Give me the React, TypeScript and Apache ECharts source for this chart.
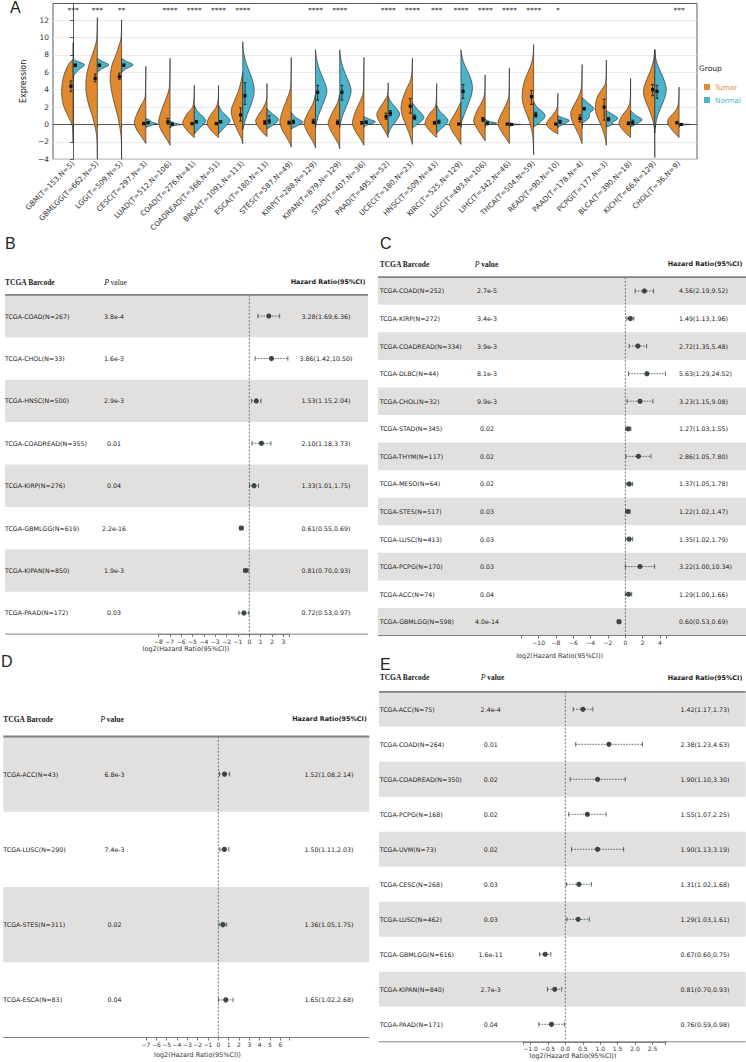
import React, { useEffect, useRef } from "react";
import * as echarts from "echarts";

const FONT = "DejaVu Sans";
const SERIF = "Liberation Serif";
const ORANGE = "#E0892E";
const BLUE = "#4BB4CA";
const SHADE = "#E2E0DE";
const INK = "#222222";
const DOT = "#3B4744";
const RULE = "#808080";

// ---------------- Panel A data ----------------
const cancerLabels = [
  "GBM(T=153,N=5)", "GBMLGG(T=662,N=5)", "LGG(T=509,N=5)", "CESC(T=297,N=3)", "LUAD(T=512,N=106)",
  "COAD(T=276,N=41)", "COADREAD(T=366,N=51)", "BRCA(T=1091,N=113)", "ESCA(T=180,N=13)", "STES(T=587,N=49)",
  "KIRP(T=288,N=129)", "KIPAN(T=879,N=129)", "STAD(T=407,N=36)", "PRAD(T=495,N=52)", "UCEC(T=180,N=23)",
  "HNSC(T=509,N=43)", "KIRC(T=525,N=129)", "LUSC(T=493,N=106)", "LIHC(T=342,N=46)", "THCA(T=504,N=59)",
  "READ(T=90,N=10)", "PAAD(T=178,N=4)", "PCPG(T=177,N=3)", "BLCA(T=390,N=18)", "KICH(T=66,N=129)",
  "CHOL(T=36,N=9)",
];
const signif = ["***", "***", "**", "", "****", "****", "****", "****", "", "", "****", "****", "", "****", "****", "***", "****", "****", "****", "****", "*", "", "", "", "", "***"];
const yTicksA = [-4, -2, 0, 2, 4, 6, 8, 10, 12];

const tumorMean = [4.4, 5.3, 5.5, 0.1, 0.3, 0.1, 0.1, 1.1, 0.2, 0.2, 0.3, 0.2, 0.2, 0.9, 2.1, 0.2, 0.05, 0.6, 0.05, 3.2, 0.05, 0.7, 2.0, 0.1, 4.0, 0.2];
const tumorLow = [3.8, 4.9, 5.2, 0.0, 0.05, 0.0, 0.0, 0.4, 0.05, 0.05, 0.1, 0.05, 0.05, 0.6, 1.3, 0.05, 0.0, 0.35, 0.0, 2.3, 0.0, 0.3, 0.5, 0.0, 3.3, 0.1];
const tumorHigh = [5.0, 5.8, 5.9, 0.25, 0.7, 0.2, 0.2, 1.9, 0.45, 0.4, 0.6, 0.5, 0.35, 1.3, 3.0, 0.35, 0.1, 0.8, 0.1, 3.9, 0.1, 1.1, 2.9, 0.3, 4.6, 0.35];
const normalMean = [6.8, 6.8, 6.8, 0.2, 0.05, 0.3, 0.3, 3.3, 0.4, 0.3, 3.7, 3.7, 0.25, 1.3, 0.8, 0.3, 3.8, 0.15, 0.0, 1.1, 0.3, 1.8, 0.6, 0.2, 3.8, 0.0];
const normalLow = [6.65, 6.65, 6.65, 0.1, 0.0, 0.2, 0.2, 2.3, 0.1, 0.1, 2.8, 2.8, 0.15, 1.0, 0.55, 0.1, 3.0, 0.1, -0.05, 0.85, 0.1, 1.7, 0.4, 0.0, 3.0, -0.05];
const normalHigh = [6.95, 6.95, 6.95, 0.3, 0.1, 0.45, 0.45, 4.8, 1.0, 0.5, 4.5, 4.5, 0.4, 1.6, 1.1, 0.5, 4.6, 0.25, 0.05, 1.4, 0.5, 1.95, 0.8, 0.5, 4.5, 0.05];

// density profiles: [expression, relative half-width]
const tumorShape = [
  [[7.5, 0], [6.9, 0.4], [5.7, 0.8], [4.5, 0.97], [3.4, 1], [2.2, 0.85], [1, 0.45], [0, 0.1], [-1, 0.02], [-2.1, 0]],
  [[12.3, 0], [10, 0.05], [9, 0.2], [8, 0.45], [7, 0.7], [6, 0.9], [5, 1], [4, 1], [3, 0.9], [2, 0.7], [1, 0.45], [0, 0.25], [-1, 0.1], [-2, 0.03], [-4, 0]],
  [[12, 0], [10, 0.05], [9, 0.25], [8, 0.5], [7, 0.8], [6, 0.97], [5, 1], [4, 0.9], [3, 0.75], [2, 0.55], [1, 0.35], [0, 0.2], [-1, 0.08], [-2, 0.02], [-4, 0]],
  [[6.7, 0], [4, 0.03], [3, 0.1], [2, 0.5], [1, 0.85], [0.2, 1], [-0.5, 0.85], [-1.2, 0.5], [-1.8, 0.2], [-2.2, 0]],
  [[7.6, 0], [5, 0.03], [4, 0.1], [3, 0.35], [2, 0.65], [1, 0.9], [0.3, 1], [-0.5, 0.85], [-1.3, 0.5], [-2, 0.15], [-2.4, 0]],
  [[4.5, 0], [3, 0.03], [2, 0.15], [1.3, 0.6], [0.5, 0.95], [0, 1], [-0.6, 0.7], [-1.1, 0.35], [-1.5, 0]],
  [[4.5, 0], [3, 0.03], [2, 0.2], [1.3, 0.6], [0.5, 0.95], [0, 1], [-0.6, 0.7], [-1.1, 0.35], [-1.5, 0]],
  [[6, 0], [5, 0.15], [4, 0.35], [3, 0.65], [2, 0.95], [1.3, 1], [0.5, 0.85], [-0.3, 0.6], [-1, 0.35], [-1.7, 0.1], [-2.2, 0]],
  [[4.7, 0], [3, 0.03], [2, 0.3], [1.2, 0.7], [0.4, 1], [-0.3, 0.75], [-0.9, 0.4], [-1.4, 0]],
  [[7.7, 0], [5, 0.03], [4, 0.1], [3, 0.35], [2, 0.65], [1, 0.9], [0.2, 1], [-0.6, 0.8], [-1.4, 0.45], [-2.1, 0.15], [-2.6, 0]],
  [[3.5, 0], [2.5, 0.2], [1.5, 0.6], [0.5, 0.95], [0, 1], [-0.8, 0.75], [-1.6, 0.4], [-2.3, 0.1], [-2.7, 0]],
  [[3.5, 0], [2.5, 0.2], [1.5, 0.6], [0.5, 0.95], [0, 1], [-0.8, 0.75], [-1.6, 0.4], [-2.3, 0.1], [-2.8, 0]],
  [[7.7, 0], [5, 0.03], [3.5, 0.1], [2.5, 0.4], [1.5, 0.75], [0.5, 0.98], [0, 1], [-0.8, 0.75], [-1.6, 0.35], [-2.4, 0]],
  [[4.8, 0], [3.5, 0.05], [2.8, 0.3], [2, 0.7], [1.2, 1], [0.5, 0.85], [-0.3, 0.5], [-1, 0.2], [-1.5, 0]],
  [[7.6, 0], [6, 0.05], [5, 0.2], [4, 0.55], [3, 0.85], [2, 1], [1, 0.9], [0, 0.6], [-1, 0.3], [-1.8, 0.1], [-2.3, 0]],
  [[4.7, 0], [3, 0.03], [2, 0.15], [1.3, 0.6], [0.5, 0.95], [0, 1], [-0.6, 0.7], [-1.1, 0.35], [-1.5, 0]],
  [[2.6, 0], [1.8, 0.3], [1, 0.65], [0.3, 0.95], [0, 1], [-0.7, 0.8], [-1.5, 0.4], [-2.3, 0]],
  [[5.7, 0], [4, 0.03], [3, 0.15], [2, 0.55], [1, 0.9], [0.3, 1], [-0.5, 0.7], [-1.2, 0.35], [-1.9, 0]],
  [[6.5, 0], [4, 0.03], [3, 0.1], [2, 0.4], [1, 0.8], [0.1, 1], [-0.7, 0.75], [-1.5, 0.35], [-2.2, 0]],
  [[9.2, 0], [8, 0.05], [7, 0.2], [6, 0.5], [5, 0.8], [4, 0.97], [3, 1], [2, 0.85], [1, 0.55], [0, 0.3], [-1, 0.12], [-2, 0.04], [-3.5, 0]],
  [[3.6, 0], [2, 0.05], [1.2, 0.4], [0.5, 0.85], [0, 1], [-0.5, 0.7], [-1.1, 0]],
  [[6.9, 0], [5, 0.03], [4, 0.1], [3, 0.4], [2, 0.8], [1.2, 1], [0.3, 0.85], [-0.5, 0.55], [-1.3, 0.25], [-2.2, 0]],
  [[7.4, 0], [5, 0.05], [4.2, 0.3], [3.3, 0.75], [2.3, 0.95], [1.3, 0.9], [0.3, 0.6], [-0.7, 0.3], [-1.6, 0.1], [-2.4, 0]],
  [[5.3, 0], [3, 0.03], [2, 0.2], [1.2, 0.65], [0.5, 0.95], [0, 1], [-0.6, 0.7], [-1.1, 0.35], [-1.5, 0]],
  [[8.6, 0], [7.5, 0.1], [6.5, 0.3], [5.5, 0.6], [4.5, 0.9], [3.7, 1], [3, 0.9], [2, 0.6], [1, 0.3], [0, 0.1], [-1, 0.03], [-3.8, 0]],
  [[4.3, 0], [2.5, 0.05], [1.6, 0.3], [0.8, 0.85], [0.2, 1], [-0.5, 0.7], [-1.1, 0.3], [-1.5, 0]],
];
const normalShape = [
  [[9.4, 0], [7.6, 0.05], [7.2, 0.5], [6.85, 1], [6.3, 0.5], [5.8, 0.15], [5.4, 0]],
  [[7.6, 0], [7.2, 0.5], [6.85, 1], [6.4, 0.4], [6.0, 0]],
  [[7.6, 0], [7.2, 0.5], [6.85, 1], [6.4, 0.4], [6.0, 0]],
  [[0.7, 0], [0.5, 0.35], [0.25, 0.55], [0.1, 1], [-0.1, 0.5], [-0.3, 0]],
  [[0.4, 0], [0.15, 0.4], [0, 1], [-0.15, 0.3], [-0.4, 0]],
  [[2.2, 0], [1.5, 0.3], [1, 0.7], [0.5, 1], [0, 0.8], [-0.5, 0.4], [-1.1, 0]],
  [[2.2, 0], [1.5, 0.3], [1, 0.7], [0.45, 1], [0, 0.8], [-0.5, 0.4], [-1.1, 0]],
  [[9.5, 0], [8.5, 0.05], [7.5, 0.2], [6.5, 0.45], [5.5, 0.75], [4.5, 0.95], [3.8, 1], [3, 0.9], [2, 0.65], [1, 0.35], [0, 0.12], [-0.6, 0]],
  [[1.8, 0], [1.2, 0.5], [0.6, 1], [0, 0.6], [-0.5, 0]],
  [[1.4, 0], [0.8, 0.4], [0.3, 1], [-0.1, 0.6], [-0.5, 0]],
  [[8.6, 0], [7.5, 0.1], [6.5, 0.3], [5.5, 0.6], [4.5, 0.9], [3.8, 1], [3, 0.85], [2, 0.55], [1, 0.25], [0, 0.05], [-0.3, 0]],
  [[8.6, 0], [7.5, 0.1], [6.5, 0.3], [5.5, 0.6], [4.5, 0.9], [3.8, 1], [3, 0.85], [2, 0.55], [1, 0.25], [0, 0.05], [-0.3, 0]],
  [[0.9, 0], [0.6, 0.5], [0.3, 1], [0, 0.4], [-0.2, 0]],
  [[3.2, 0], [2.5, 0.3], [1.8, 0.75], [1.2, 1], [0.5, 0.75], [-0.3, 0.3], [-1.1, 0]],
  [[2.5, 0], [1.8, 0.4], [1.2, 0.85], [0.7, 1], [0.2, 0.6], [-0.4, 0]],
  [[2.2, 0], [1.5, 0.3], [1, 0.7], [0.45, 1], [0, 0.8], [-0.5, 0.4], [-1.0, 0]],
  [[8.6, 0], [7.5, 0.15], [6.5, 0.45], [5.5, 0.8], [4.5, 1], [3.5, 0.95], [2.5, 0.7], [1.5, 0.4], [0.5, 0.12], [0, 0]],
  [[0.6, 0], [0.35, 0.4], [0.15, 1], [0, 0.4], [-0.15, 0]],
  [[0.2, 0], [0.05, 0.5], [0, 1], [-0.05, 0.4], [-0.2, 0]],
  [[2.6, 0], [2, 0.3], [1.5, 0.75], [1, 1], [0.4, 0.7], [-0.3, 0]],
  [[1.0, 0], [0.7, 0.6], [0.45, 1], [0.1, 0.6], [-0.3, 0]],
  [[3.1, 0], [2.5, 0.5], [2.0, 0.95], [1.7, 1], [1.3, 0.65], [1.0, 0.65], [0.6, 0.5], [0.2, 0.1], [0, 0]],
  [[1.6, 0], [1.2, 0.5], [0.7, 1], [0.3, 0.6], [0, 0.5], [-0.3, 0]],
  [[1.6, 0], [1.1, 0.4], [0.6, 1], [0.2, 0.7], [-0.1, 0.3], [-0.3, 0]],
  [[8.6, 0], [7.5, 0.1], [6.5, 0.35], [5.5, 0.7], [4.5, 0.95], [3.8, 1], [3, 0.85], [2, 0.55], [1, 0.25], [0, 0.08], [-1, 0]],
  [[0.15, 0], [0.05, 0.5], [0, 1], [-0.05, 0.4], [-0.15, 0]],
];

// ---------------- Forest data ----------------
const bNames = ["TCGA-COAD(N=267)", "TCGA-CHOL(N=33)", "TCGA-HNSC(N=500)", "TCGA-COADREAD(N=355)", "TCGA-KIRP(N=276)", "TCGA-GBMLGG(N=619)", "TCGA-KIPAN(N=850)", "TCGA-PAAD(N=172)"];
const bPval = ["3.8e-4", "1.6e-3", "2.9e-3", "0.01", "0.04", "2.2e-16", "1.9e-3", "0.03"];
const bHR = [3.28, 3.86, 1.53, 2.10, 1.33, 0.61, 0.81, 0.72];
const bLow = [1.69, 1.42, 1.15, 1.18, 1.01, 0.55, 0.70, 0.53];
const bHigh = [6.36, 10.50, 2.04, 3.73, 1.75, 0.69, 0.93, 0.97];
const bTicks = [-8, -7, -6, -5, -4, -3, -2, -1, 0, 1, 2, 3];

const cNames = ["TCGA-COAD(N=252)", "TCGA-KIRP(N=272)", "TCGA-COADREAD(N=334)", "TCGA-DLBC(N=44)", "TCGA-CHOL(N=32)", "TCGA-STAD(N=345)", "TCGA-THYM(N=117)", "TCGA-MESO(N=64)", "TCGA-STES(N=517)", "TCGA-LUSC(N=413)", "TCGA-PCPG(N=170)", "TCGA-ACC(N=74)", "TCGA-GBMLGG(N=598)"];
const cPval = ["2.7e-5", "3.4e-3", "3.9e-3", "8.1e-3", "9.9e-3", "0.02", "0.02", "0.02", "0.03", "0.03", "0.03", "0.04", "4.0e-14"];
const cHR = [4.56, 1.49, 2.72, 5.63, 3.23, 1.27, 2.86, 1.37, 1.22, 1.35, 3.22, 1.29, 0.60];
const cLow = [2.19, 1.13, 1.35, 1.29, 1.15, 1.03, 1.05, 1.05, 1.02, 1.02, 1.00, 1.00, 0.53];
const cHigh = [9.52, 1.96, 5.48, 24.52, 9.08, 1.55, 7.80, 1.78, 1.47, 1.79, 10.34, 1.66, 0.69];
const cTicks = [-10, -8, -6, -4, -2, 0, 2, 4];

const dNames = ["TCGA-ACC(N=43)", "TCGA-LUSC(N=290)", "TCGA-STES(N=311)", "TCGA-ESCA(N=83)"];
const dPval = ["6.8e-3", "7.4e-3", "0.02", "0.04"];
const dHR = [1.52, 1.50, 1.36, 1.65];
const dLow = [1.08, 1.11, 1.05, 1.02];
const dHigh = [2.14, 2.03, 1.75, 2.68];
const dTicks = [-7, -6, -5, -4, -3, -2, -1, 0, 1, 2, 3, 4, 5, 6];

const eNames = ["TCGA-ACC(N=75)", "TCGA-COAD(N=264)", "TCGA-COADREAD(N=350)", "TCGA-PCPG(N=168)", "TCGA-UVM(N=73)", "TCGA-CESC(N=268)", "TCGA-LUSC(N=462)", "TCGA-GBMLGG(N=616)", "TCGA-KIPAN(N=840)", "TCGA-PAAD(N=171)"];
const ePval = ["2.4e-4", "0.01", "0.02", "0.02", "0.02", "0.03", "0.03", "1.6e-11", "2.7e-3", "0.04"];
const eHR = [1.42, 2.38, 1.90, 1.55, 1.90, 1.31, 1.29, 0.67, 0.81, 0.76];
const eLow = [1.17, 1.23, 1.10, 1.07, 1.13, 1.02, 1.03, 0.60, 0.70, 0.59];
const eHigh = [1.73, 4.63, 3.30, 2.25, 3.19, 1.68, 1.61, 0.75, 0.93, 0.98];
const eTicks = [-1.0, -0.5, 0, 0.5, 1.0, 1.5, 2.0, 2.5];

// ---------------- layout (positions only) ----------------
const forestLayouts: any[] = [
  { letter: "B", letterX: 5, letterY: 243.5, names: bNames, pval: bPval, hr: bHR, low: bLow, high: bHigh, ticks: bTicks, dec: 0,
    grid: { left: 158.4, top: 294.9, width: 130.7, height: 339.2 }, xMin: -8, xMax: 3.5,
    tableL: 5, tableR: 368, nameX: 5, pX: 114, hrX: 326, hrAlign: "center", headY: 282, headPX: 115.5, headHRX: 328, titleX: 186, titleY: 649.3 },
  { letter: "C", letterX: 380, letterY: 243.5, names: cNames, pval: cPval, hr: cHR, low: cLow, high: cHigh, ticks: cTicks, dec: 0,
    grid: { left: 521.3, top: 277.2, width: 144.8, height: 358.3 }, xMin: -12, xMax: 4.7,
    tableL: 378, tableR: 746, nameX: 379.7, pX: 487, hrX: 679, hrAlign: "left", headY: 264, headPX: 486.5, headHRX: 705, titleX: 559.7, titleY: 655.5 },
  { letter: "D", letterX: 1, letterY: 661, names: dNames, pval: dPval, hr: dHR, low: dLow, high: dHigh, ticks: dTicks, dec: 0,
    grid: { left: 146, top: 736.5, width: 143.3, height: 301 }, xMin: -7, xMax: 6.87,
    tableL: 3.3, tableR: 369.3, nameX: 3.3, pX: 114.5, hrX: 329, hrAlign: "center", headY: 719, headPX: 112, headHRX: 329.5, titleX: 197.5, titleY: 1055 },
  { letter: "E", letterX: 380, letterY: 664, names: eNames, pval: ePval, hr: eHR, low: eLow, high: eHigh, ticks: eTicks, dec: 1,
    grid: { left: 523.5, top: 691.8, width: 142.2, height: 350 }, xMin: -1.2, xMax: 2.88,
    tableL: 379, tableR: 745.7, nameX: 379.7, pX: 490.7, hrX: 705, hrAlign: "center", headY: 677.7, headPX: 492.5, headHRX: 705, titleX: 573, titleY: 1056 },
];

const minus = (v: number, dec = 0) => {
  const s = Math.abs(v).toFixed(dec);
  return v < -1e-9 ? "\u2212" + s : s;
};

function catmullRom(pts: number[][], seg: number) {
  const out: number[][] = [];
  const n = pts.length;
  for (let i = 0; i < n - 1; i++) {
    const p0 = pts[Math.max(0, i - 1)], p1 = pts[i], p2 = pts[i + 1], p3 = pts[Math.min(n - 1, i + 2)];
    for (let s = 0; s < seg; s++) {
      const t = s / seg, t2 = t * t, t3 = t2 * t;
      const f = (a: number, b: number, c: number, d: number) =>
        0.5 * (2 * b + (-a + c) * t + (2 * a - 5 * b + 4 * c - d) * t2 + (-a + 3 * b - 3 * c + d) * t3);
      out.push([f(p0[0], p1[0], p2[0], p3[0]), f(p0[1], p1[1], p2[1], p3[1])]);
    }
  }
  out.push(pts[n - 1]);
  return out;
}

const halfViolin = (shapes: number[][][], mean: number[], low: number[], high: number[], side: number, color: string) =>
  (params: any, api: any) => {
    const i = api.value(0);
    const cx = api.coord([i, 0])[0];
    const band = api.size([1, 0])[0];
    const hw = band * 0.47;
    const raw = shapes[i].map(([v, w]) => [cx + side * w * hw, api.coord([i, v])[1]]);
    const pts = catmullRom(raw, 6).map(([x, y]) => [side < 0 ? Math.min(x, cx) : Math.max(x, cx), y]);
    const mx = cx + side * band * 0.09;
    const ym = api.coord([i, mean[i]])[1];
    const yl = api.coord([i, low[i]])[1];
    const yh = api.coord([i, high[i]])[1];
    const c = 1.5;
    const k = { stroke: "#111", lineWidth: 0.8 };
    return {
      type: "group",
      children: [
        { type: "polygon", shape: { points: pts }, style: { fill: color, stroke: "#1c1c1c", lineWidth: 0.6 } },
        { type: "line", shape: { x1: mx, y1: yl, x2: mx, y2: yh }, style: k },
        { type: "line", shape: { x1: mx - c, y1: yl, x2: mx + c, y2: yl }, style: k },
        { type: "line", shape: { x1: mx - c, y1: yh, x2: mx + c, y2: yh }, style: k },
        { type: "rect", shape: { x: mx - 1.6, y: ym - 1.6, width: 3.2, height: 3.2 }, style: { fill: "#111" } },
      ],
    };
  };

const txt = (x: number, y: number, text: string, align: string, extra: any = {}) => ({
  type: "text",
  x,
  y,
  style: { text, fontSize: 6.3, fontFamily: FONT, fill: INK, textAlign: align, textVerticalAlign: "middle", align, verticalAlign: "middle", ...extra },
});

const hrText = (L: any, i: number) => `${L.hr[i].toFixed(2)}(${L.low[i].toFixed(2)},${L.high[i].toFixed(2)})`;

const forestBg = (L: any) => (params: any, api: any) => {
  const i = params.dataIndex;
  const yc = api.coord([0, i])[1];
  const rh = api.size([0, 1])[1];
  const ch: any[] = [];
  if (i % 2 === 0) {
    ch.push({ type: "rect", shape: { x: L.tableL, y: yc - rh / 2, width: L.tableR - L.tableL, height: rh }, style: { fill: SHADE } });
  }
  ch.push(txt(L.nameX, yc, L.names[i], "left"));
  ch.push(txt(L.pX, yc, L.pval[i], "center"));
  ch.push(txt(L.hrX, yc, hrText(L, i), L.hrAlign));
  return { type: "group", children: ch };
};

const forestFg = (L: any) => (params: any, api: any) => {
  const i = params.dataIndex;
  const [px, yc] = api.coord([api.value(0), i]);
  const xl = api.coord([api.value(2), i])[0];
  const xh = api.coord([api.value(3), i])[0];
  const rh = api.size([0, 1])[1];
  const ch: any[] = [];
  if (i === 0) {
    const x0 = api.coord([0, i])[0];
    ch.push({ type: "line", shape: { x1: x0, y1: yc - rh / 2, x2: x0, y2: yc - rh / 2 + rh * L.names.length }, style: { stroke: "#555", lineWidth: 0.8, lineDash: [2, 1.6] } });
  }
  const cap = 2.3;
  ch.push({ type: "line", shape: { x1: xl, y1: yc, x2: xh, y2: yc }, style: { stroke: DOT, lineWidth: 0.8, lineDash: [1.6, 1.2] } });
  ch.push({ type: "line", shape: { x1: xl, y1: yc - cap, x2: xl, y2: yc + cap }, style: { stroke: DOT, lineWidth: 0.8 } });
  ch.push({ type: "line", shape: { x1: xh, y1: yc - cap, x2: xh, y2: yc + cap }, style: { stroke: DOT, lineWidth: 0.8 } });
  ch.push({ type: "circle", shape: { cx: px, cy: yc, r: 2.6 }, style: { fill: DOT } });
  return { type: "group", children: ch };
};

function buildOption() {
  const catIdx = cancerLabels.map((_, i) => i);
  const grids: any[] = [{ left: 53, top: 3.5, width: 644, height: 155.8, show: true, borderColor: "#333", borderWidth: 0.8 }];
  const xAxes: any[] = [{
    gridIndex: 0, type: "value", min: -0.83, max: 25.74,
    axisLine: { show: true, lineStyle: { color: "#333", width: 0.8 } },
    axisTick: { show: true, customValues: catIdx, length: 3, lineStyle: { color: "#333", width: 0.8 } },
    axisLabel: { customValues: catIdx, formatter: (v: number) => cancerLabels[Math.round(v)] ?? "", rotate: 45, fontSize: 7.3, fontFamily: FONT, color: "#333", margin: 3 },
    splitLine: { show: false },
  }];
  const yAxes: any[] = [{
    gridIndex: 0, type: "value", min: -4, max: 13.9, interval: 2,
    axisLine: { show: true, lineStyle: { color: "#333", width: 0.8 } },
    axisTick: { show: true, customValues: yTicksA, length: 3, lineStyle: { color: "#333", width: 0.8 } },
    axisLabel: { customValues: yTicksA, fontSize: 7.5, fontFamily: FONT, color: "#333", margin: 4, formatter: (v: number) => minus(v) },
    splitLine: { show: true, lineStyle: { color: "#E6E6E6", width: 0.8 } },
    name: "Expression", nameLocation: "middle", nameGap: 13,
    nameTextStyle: { fontSize: 8, fontFamily: FONT, color: "#222" },
  }];
  const series: any[] = [
    { type: "custom", name: "Tumor", xAxisIndex: 0, yAxisIndex: 0, itemStyle: { color: ORANGE }, clip: false,
      data: catIdx.map((i) => [i, tumorMean[i]]), encode: { x: 0, y: 1 },
      renderItem: halfViolin(tumorShape, tumorMean, tumorLow, tumorHigh, -1, ORANGE) },
    { type: "custom", name: "Normal", xAxisIndex: 0, yAxisIndex: 0, itemStyle: { color: BLUE }, clip: false,
      data: catIdx.map((i) => [i, normalMean[i]]), encode: { x: 0, y: 1 },
      renderItem: halfViolin(normalShape, normalMean, normalLow, normalHigh, 1, BLUE) },
    { type: "custom", name: "signif", xAxisIndex: 0, yAxisIndex: 0, clip: false, silent: true,
      data: catIdx.filter((i) => signif[i]).map((i) => [i, 13.1]), encode: { x: 0, y: 1 },
      renderItem: (params: any, api: any) => {
        const i = api.value(0);
        const [x, y] = api.coord([i, api.value(1)]);
        return { type: "text", x, y, style: { text: signif[i], fontSize: 7.5, fontFamily: FONT, fill: "#333", textAlign: "center", textVerticalAlign: "middle", align: "center", verticalAlign: "middle" } };
      } },
  ];

  const graphic: any[] = [
    { type: "text", x: 10, y: 7.5, style: { text: "A", fontSize: 16, fontFamily: "Liberation Sans", fill: INK, textVerticalAlign: "middle", verticalAlign: "middle" } },
    { type: "text", x: 699, y: 68, style: { text: "Group", fontSize: 7.5, fontFamily: FONT, fill: INK, textVerticalAlign: "middle", verticalAlign: "middle" } },
  ];

  forestLayouts.forEach((L, k) => {
    const gi = k + 1;
    grids.push({ ...L.grid, show: false });
    const tickVals = Array.from(new Set([L.xMin, ...L.ticks, L.xMax]));
    xAxes.push({
      gridIndex: gi, type: "value", min: L.xMin, max: L.xMax,
      axisLine: { show: true, lineStyle: { color: RULE, width: 1 } },
      axisTick: { show: true, customValues: tickVals, length: 3, lineStyle: { color: "#555", width: 0.8 } },
      axisLabel: { customValues: L.ticks, formatter: (v: number) => minus(v, L.dec), fontSize: 6, fontFamily: FONT, color: "#333", margin: 4 },
      splitLine: { show: false },
    });
    yAxes.push({ gridIndex: gi, type: "category", data: L.names, inverse: true, show: false });
    series.push({
      type: "custom", xAxisIndex: gi, yAxisIndex: gi, z: 1, silent: true, clip: false,
      data: L.names.map((_: string, i: number) => [0, i]), encode: { x: 0, y: 1 },
      renderItem: forestBg(L),
    });
    series.push({
      type: "custom", xAxisIndex: gi, yAxisIndex: gi, z: 3, silent: true, clip: false,
      data: L.hr.map((h: number, i: number) => [Math.log2(h), i, Math.log2(L.low[i]), Math.log2(L.high[i])]),
      encode: { x: [0, 2, 3], y: 1 },
      renderItem: forestFg(L),
    });
    const top = L.grid.top;
    const bottom = L.grid.top + L.grid.height;
    graphic.push(
      { type: "text", x: L.letterX, y: L.letterY, style: { text: L.letter, fontSize: 16, fontFamily: "Liberation Sans", fill: INK, textVerticalAlign: "middle", verticalAlign: "middle" } },
      { type: "text", x: L.nameX, y: L.headY, style: { text: "TCGA Barcode", fontSize: 7.5, fontWeight: "bold", fontFamily: SERIF, fill: INK, textVerticalAlign: "middle", verticalAlign: "middle" } },
      { type: "text", x: L.headPX, y: L.headY, style: {
        text: "{i|P}{b|\u2009value}", textAlign: "center", align: "center", textVerticalAlign: "middle", verticalAlign: "middle",
        rich: {
          i: { fontFamily: SERIF, fontStyle: "italic", fontSize: 8, fill: INK, color: INK },
          b: { fontFamily: SERIF, fontWeight: k === 0 ? "normal" : "bold", fontSize: 7.5, fill: INK, color: INK },
        } } },
      { type: "text", x: L.headHRX, y: L.headY, style: { text: "Hazard Ratio(95%CI)", fontSize: 6.4, fontWeight: "bold", fontFamily: FONT, fill: INK, textAlign: "center", align: "center", textVerticalAlign: "middle", verticalAlign: "middle" } },
      { type: "line", z: 100, shape: { x1: L.tableL, y1: top, x2: L.tableR, y2: top }, style: { stroke: RULE, lineWidth: 1.8 } },
      { type: "line", z: 100, shape: { x1: L.tableL, y1: bottom, x2: L.tableR, y2: bottom }, style: { stroke: RULE, lineWidth: 1 } },
      { type: "text", x: L.titleX, y: L.titleY, style: { text: "log2(Hazard Ratio(95%CI))", fontSize: 6.5, fontFamily: FONT, fill: "#333", textAlign: "center", align: "center", textVerticalAlign: "middle", verticalAlign: "middle" } },
    );
  });

  return {
    animation: false,
    backgroundColor: "#ffffff",
    grid: grids,
    xAxis: xAxes,
    yAxis: yAxes,
    legend: {
      orient: "vertical", left: 699, top: 78.5, itemWidth: 6, itemHeight: 6, itemGap: 6, icon: "rect",
      selectedMode: false,
      textStyle: { fontFamily: FONT, fontSize: 7.2 },
      data: [
        { name: "Tumor", textStyle: { color: ORANGE } },
        { name: "Normal", textStyle: { color: BLUE } },
      ],
    },
    graphic,
    series,
  };
}

export default function App() {
  const ref = useRef<HTMLDivElement>(null);
  useEffect(() => {
    if (!ref.current) return;
    const chart = echarts.init(ref.current, null, { renderer: "svg" });
    chart.setOption(buildOption() as any);
    return () => chart.dispose();
  }, []);
  return (
    <div
      ref={ref}
      style={{ position: "absolute", left: 0, top: 0, width: 746, height: 1062, background: "#fff" }}
    />
  );
}
